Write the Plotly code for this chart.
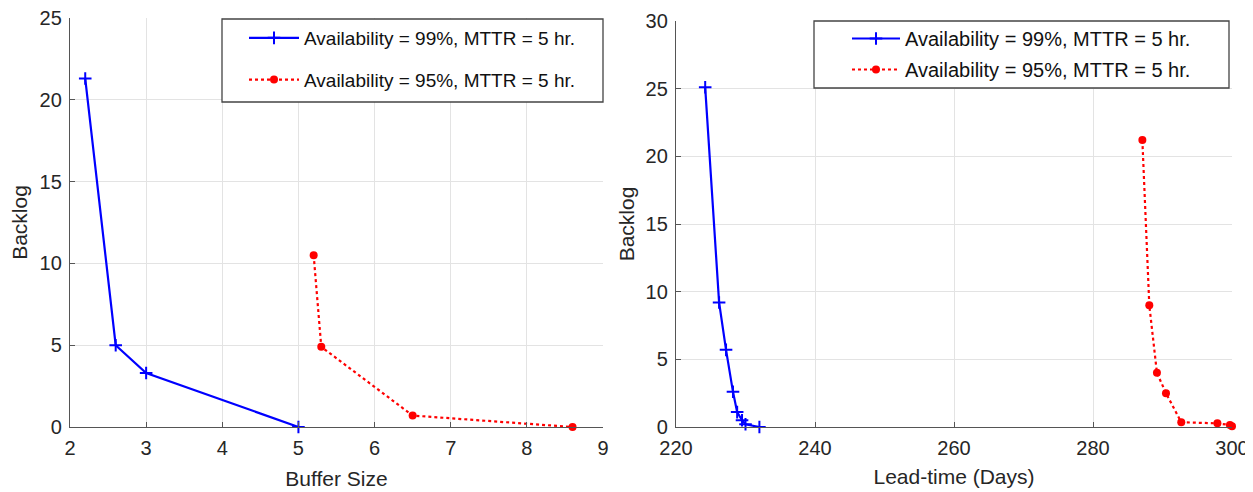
import plotly.graph_objects as go

# Left panel data
buf_99_x = [2.2, 2.6, 3.0, 5.0]
buf_99_y = [21.3, 5.0, 3.3, 0.0]
buf_95_x = [5.2, 5.3, 6.5, 8.6]
buf_95_y = [10.5, 4.9, 0.7, 0.0]

# Right panel data
lt_99_x = [224.2, 226.2, 227.2, 228.2, 228.8, 229.5, 230.0, 232.0]
lt_99_y = [25.1, 9.2, 5.7, 2.6, 1.1, 0.5, 0.2, 0.0]
lt_95_x = [287.1, 288.1, 289.2, 290.5, 292.7, 297.9, 299.7, 300.0]
lt_95_y = [21.2, 9.0, 4.0, 2.5, 0.35, 0.27, 0.15, 0.05]

name_99 = "Availability = 99%, MTTR = 5 hr."
name_95 = "Availability = 95%, MTTR = 5 hr."

OFF = 8  # page body margin
W, H = 1253 - OFF, 492 - OFF
FONT = "Liberation Sans, Arial, sans-serif"
TXT = "#262626"
GRID = "#e3e3e3"


def px(x):
    return (x - OFF) / W


def py(y):
    return 1 - (y - OFF) / H


fig = go.Figure()


def add_pair(x99, y99, x95, y95, xa, ya, legend):
    fig.add_trace(go.Scatter(
        x=x99, y=y99, xaxis=xa, yaxis=ya, mode="lines+markers", name=name_99,
        legend=legend, legendgroup=legend + "a",
        line=dict(color="#0000ff", width=2.2),
        marker=dict(symbol="cross-thin", size=9, line=dict(color="#0000ff", width=2)),
        cliponaxis=False))
    fig.add_trace(go.Scatter(
        x=x95, y=y95, xaxis=xa, yaxis=ya, mode="lines+markers", name=name_95,
        legend=legend, legendgroup=legend + "b",
        line=dict(color="#ff0000", width=2.2, dash="dot"),
        marker=dict(symbol="circle", size=8, color="#ff0000"),
        cliponaxis=False))


add_pair(buf_99_x, buf_99_y, buf_95_x, buf_95_y, "x", "y", "legend")
add_pair(lt_99_x, lt_99_y, lt_95_x, lt_95_y, "x2", "y2", "legend2")

axis_common = dict(
    showgrid=True, gridcolor=GRID, gridwidth=1,
    showline=True, linecolor="#555555", linewidth=1.3,
    ticks="inside", ticklen=5, tickcolor="#555555",
    tickfont=dict(family=FONT, size=20, color=TXT),
    zeroline=False, mirror=False, automargin=False,
    ticklabeloverflow="allow",
)
title_font = dict(family=FONT, size=21, color=TXT)

# legend frames (drawn as shapes so the box padding matches the original)
for (x0, y0, x1, y1) in [(222, 19, 603, 102), (814, 21, 1229, 88)]:
    fig.add_shape(type="rect", xref="paper", yref="paper",
                  x0=px(x0), x1=px(x1), y0=py(y1), y1=py(y0),
                  fillcolor="white", line=dict(color="#444444", width=1.3),
                  layer="above")

fig.update_layout(
    width=W, height=H,
    margin=dict(l=0, r=0, t=0, b=0, autoexpand=False),
    paper_bgcolor="white", plot_bgcolor="white",
    font=dict(family=FONT, color=TXT),
    xaxis=dict(domain=[px(70), px(603)], range=[2, 9], dtick=1, anchor="y",
               title=dict(text="Buffer Size", font=title_font, standoff=13),
               ticklabelstandoff=3, **axis_common),
    yaxis=dict(domain=[py(427), py(18)], range=[0, 25], dtick=5, anchor="x",
               title=dict(text="Backlog", font=title_font, standoff=14),
               ticklabelstandoff=3, **axis_common),
    xaxis2=dict(domain=[px(676), px(1232)], range=[220, 300], dtick=20, anchor="y2",
                title=dict(text="Lead-time (Days)", font=title_font, standoff=11),
                ticklabelstandoff=3, **axis_common),
    yaxis2=dict(domain=[py(427), py(21)], range=[0, 30], dtick=5, anchor="x2",
                title=dict(text="Backlog", font=title_font, standoff=5),
                ticklabelstandoff=3, **axis_common),
    legend=dict(x=px(244), y=py(19), xanchor="left", yanchor="top",
                bgcolor="rgba(0,0,0,0)", borderwidth=0,
                font=dict(family=FONT, size=19, color="#111111"),
                tracegroupgap=14, itemwidth=50),
    legend2=dict(x=px(847), y=py(19), xanchor="left", yanchor="top",
                 bgcolor="rgba(0,0,0,0)", borderwidth=0,
                 font=dict(family=FONT, size=20, color="#111111"),
                 tracegroupgap=2, itemwidth=48),
    showlegend=True,
)

fig.write_html("out.html")
